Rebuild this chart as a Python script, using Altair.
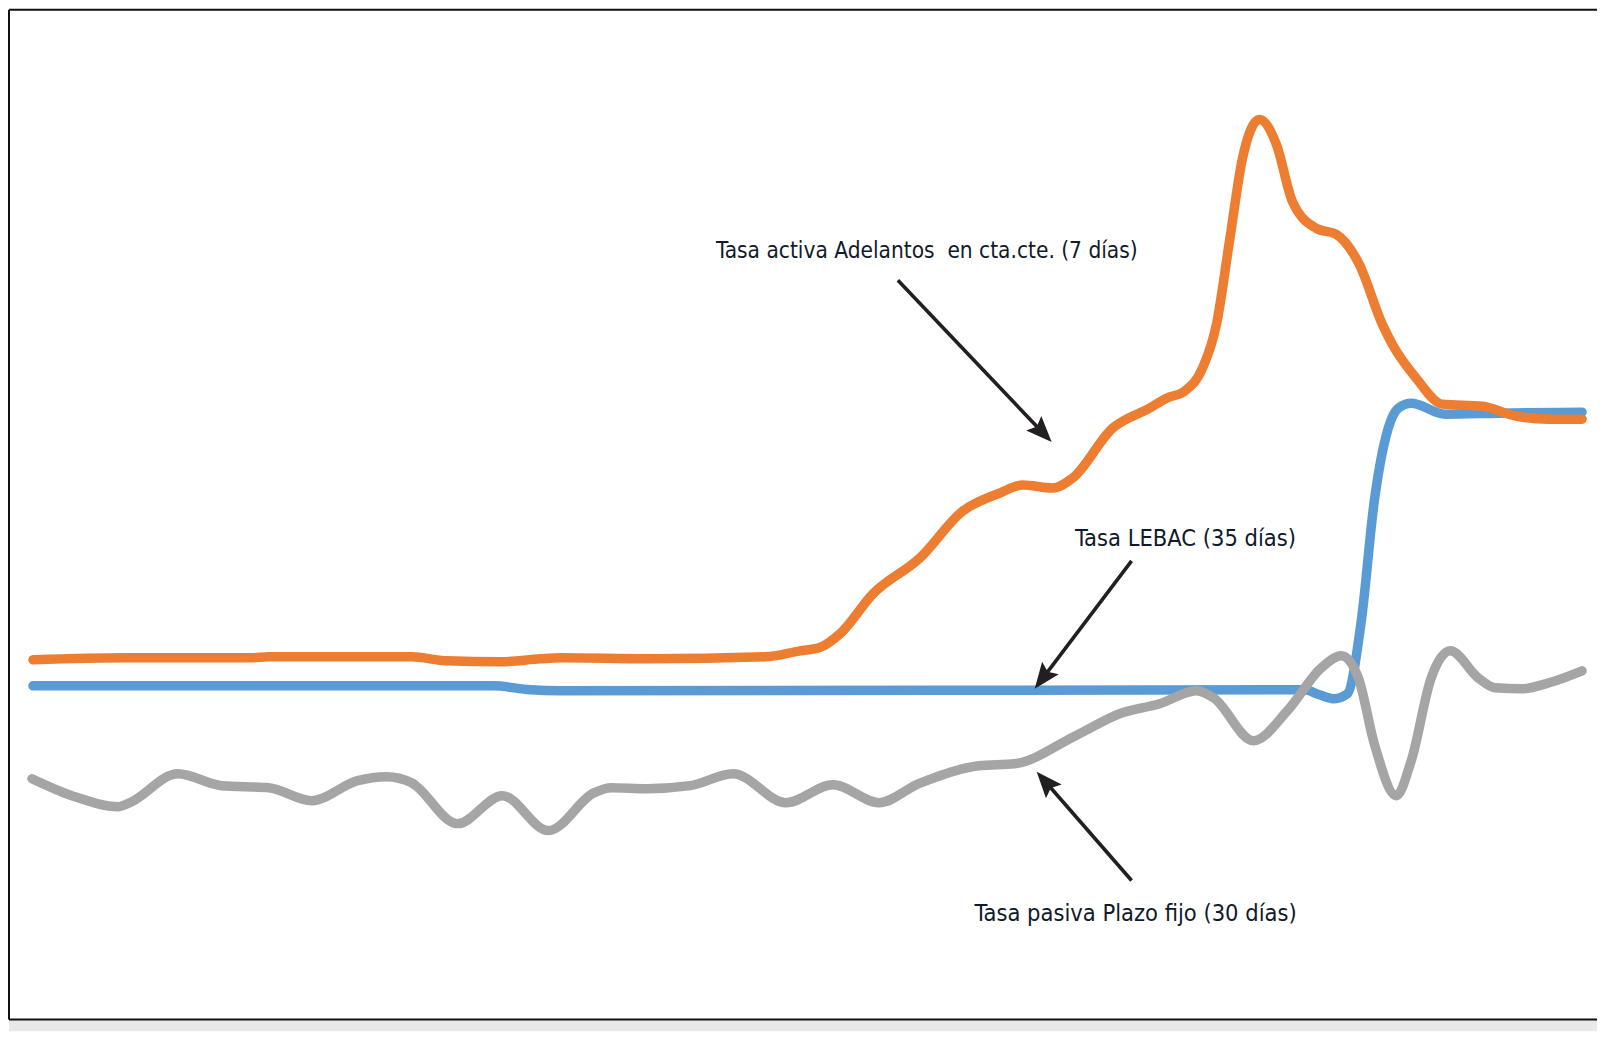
import math
import altair as alt
import pandas as pd

# ---- series (x: time units, y: rate units) ----
orange_x = [2.4, 11.7, 24.2, 26.0, 40.3, 43.8, 49.2, 53.2, 55.2, 63.9, 75.7, 79.2, 81.1, 83.2, 86.5,
            91.2, 95.5, 99.2, 101.5, 104.5, 106.5, 110.5, 114.2, 115.9, 117.7, 119.5, 120.9, 122.2,
            123.5, 125.2, 126.9, 128.5, 130.9, 132.9, 135.2, 137.5, 138.5, 140.9, 143.5, 147.5,
            150.9, 154.2, 157.5]
orange_y = [36.0, 36.2, 36.2, 36.3, 36.3, 35.9, 35.8, 36.1, 36.2, 36.1, 36.3, 36.9, 37.2, 38.6, 42.6,
            46.2, 50.9, 52.7, 53.5, 53.2, 54.2, 59.2, 61.2, 62.2, 62.9, 65.2, 69.6, 77.9,
            86.2, 90.1, 87.6, 81.9, 79.2, 78.6, 75.6, 69.6, 67.6, 64.2, 61.6, 61.4,
            60.4, 60.1, 60.1]

blue_x = [2.4, 48.5, 52.2, 55.2, 129.7, 131.2, 132.7, 134.0, 135.4, 136.7, 138.1, 139.1, 140.4,
          143.8, 149.2, 157.5]
blue_y = [33.4, 33.4, 33.0, 32.9, 33.0, 32.5, 32.1, 32.6, 39.9, 51.9, 59.2, 61.2, 61.7,
          60.6, 60.7, 60.8]

gray_x = [2.3, 6.3, 11.0, 12.1, 16.9, 21.3, 26.0, 30.3, 34.9, 37.8, 40.3, 44.9, 49.4, 54.0, 58.6,
          60.3, 63.9, 68.2, 72.5, 77.8, 82.5, 87.1, 91.1, 97.1, 100.7, 106.8, 111.2, 115.2,
          118.9, 120.6, 124.6, 128.0, 131.4, 133.4, 135.1, 136.7, 138.9, 140.4, 142.4, 144.3,
          147.1, 148.8, 151.5, 154.2, 157.5]
gray_y = [24.1, 22.4, 21.3, 21.7, 24.6, 23.4, 23.2, 21.9, 23.9, 24.3, 23.7, 19.6, 22.4, 18.9, 22.7,
          23.2, 23.1, 23.4, 24.6, 21.7, 23.5, 21.7, 23.6, 25.4, 25.6, 28.4, 30.6, 31.6,
          32.9, 32.2, 27.9, 30.9, 35.2, 36.4, 34.2, 27.6, 22.4, 25.9, 34.2, 36.9,
          34.2, 33.2, 33.1, 33.7, 34.9]

# ---- annotations ----
label_text = ["Tasa activa Adelantos\u00a0 en cta.cte. (7 días)", "Tasa LEBAC (35 días)",
              "Tasa pasiva Plazo fijo (30 días)"]
label_x = [91.9, 117.8, 112.8]
label_y = [76.2, 47.4, 9.9]
label_size = [22.5, 23.5, 23.5]

arrow_x0 = [89.0, 112.4, 112.4]
arrow_y0 = [74.0, 45.9, 13.9]
arrow_x1 = [104.4, 102.7, 102.9]
arrow_y1 = [57.8, 33.1, 24.8]

X_DOMAIN = [0, 159]
Y_DOMAIN = [0, 101.1]
W, H = 1590, 1011

xs = alt.Scale(domain=X_DOMAIN, nice=False, zero=False)
ys = alt.Scale(domain=Y_DOMAIN, nice=False, zero=False)


def line_layer(xv, yv, color):
    df = pd.DataFrame({"x": xv, "y": yv})
    return alt.Chart(df).mark_line(
        strokeWidth=9.5, strokeCap="round", strokeJoin="round",
        interpolate="monotone", color=color
    ).encode(
        x=alt.X("x:Q", scale=xs, axis=None),
        y=alt.Y("y:Q", scale=ys, axis=None),
    )


blue = line_layer(blue_x, blue_y, "#5B9BD5")
gray = line_layer(gray_x, gray_y, "#A5A5A5")
orange = line_layer(orange_x, orange_y, "#ED7D31")

# arrows: shaft stops a little before the tip, head drawn at the tip
rows = []
for x0, y0, x1, y1 in zip(arrow_x0, arrow_y0, arrow_x1, arrow_y1):
    dx, dy = x1 - x0, y1 - y0
    L = math.hypot(dx, dy)
    back = 1.6
    rows.append({
        "x0": x0, "y0": y0,
        "xe": x1 - dx / L * back, "ye": y1 - dy / L * back,
        "x1": x1, "y1": y1,
        "ang": (math.degrees(math.atan2(dx, dy)) + 360) % 360,
    })
adf = pd.DataFrame(rows)

shafts = alt.Chart(adf).mark_rule(strokeWidth=3.6, color="#231f20").encode(
    x=alt.X("x0:Q", scale=xs, axis=None),
    y=alt.Y("y0:Q", scale=ys, axis=None),
    x2="xe:Q", y2="ye:Q",
)

heads = alt.Chart(adf).mark_point(
    shape="M0,0 L0.8,2 L0,1.65 L-0.8,2 Z", filled=True, size=680,
    color="#231f20", opacity=1, strokeWidth=0
).encode(
    x=alt.X("x1:Q", scale=xs, axis=None),
    y=alt.Y("y1:Q", scale=ys, axis=None),
    angle=alt.Angle("ang:Q", scale=None),
)

ldf = pd.DataFrame({"t": label_text, "x": label_x, "y": label_y, "s": label_size})
labels = alt.Chart(ldf).mark_text(
    font="Liberation Sans Narrow, Arial Narrow, DejaVu Sans Condensed, sans-serif",
    color="#0f1a2a", align="center", baseline="alphabetic"
).encode(
    x=alt.X("x:Q", scale=xs, axis=None),
    y=alt.Y("y:Q", scale=ys, axis=None),
    size=alt.Size("s:Q", scale=None),
    text="t:N",
)

# page strip under the frame, and the frame itself (left, top, bottom edges)
one = pd.DataFrame({"k": [0]})
strip = alt.Chart(one).mark_rect(color="#e9e9e9").encode(
    x=alt.value(0), x2=alt.value(W), y=alt.value(H), y2=alt.value(H + 12))
frame_left = alt.Chart(one).mark_rule(color="#111111", strokeWidth=2).encode(
    x=alt.value(0), y=alt.value(0), y2=alt.value(H))
frame_top = alt.Chart(one).mark_rule(color="#111111", strokeWidth=2).encode(
    x=alt.value(0), x2=alt.value(W), y=alt.value(0))
frame_bottom = alt.Chart(one).mark_rule(color="#111111", strokeWidth=2).encode(
    x=alt.value(0), x2=alt.value(W), y=alt.value(H))

chart = alt.layer(strip, blue, gray, orange, shafts, heads, labels,
                  frame_left, frame_top, frame_bottom).properties(
    width=W, height=H,
    background="white",
    padding={"left": 0, "top": 0, "right": 0, "bottom": 12},
).configure_view(stroke="transparent", strokeWidth=0, fill="white")

chart.save("out.html", embed_options={"renderer": "svg", "actions": False})
